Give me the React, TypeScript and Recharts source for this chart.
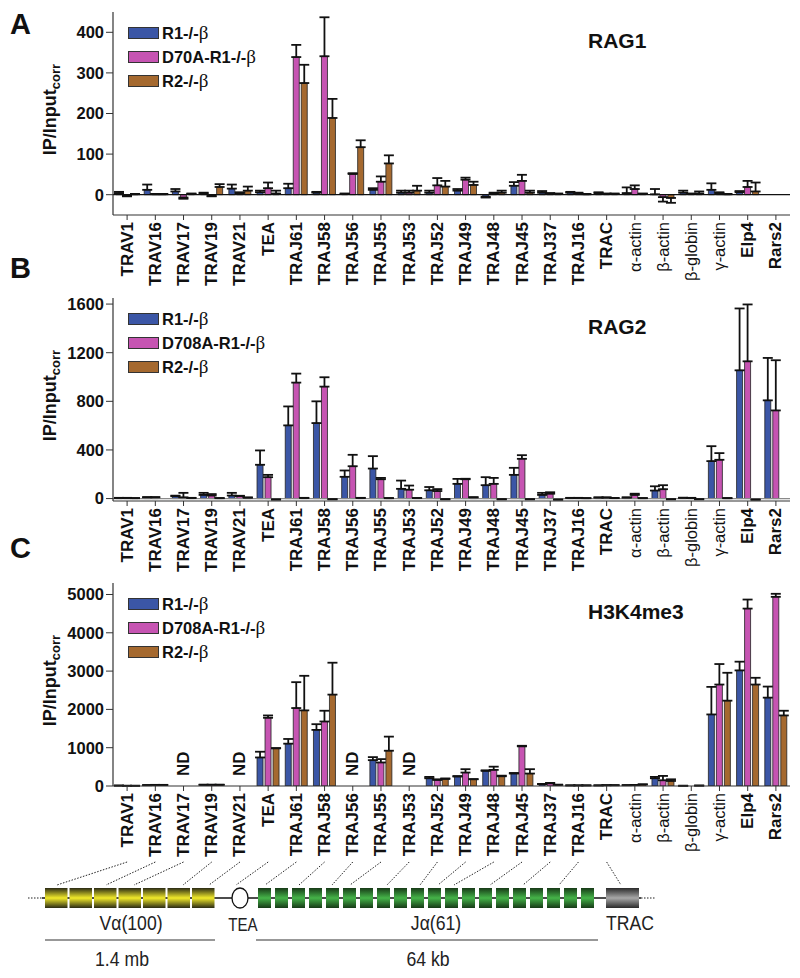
import React from 'react';
import { BarChart, Bar, XAxis, YAxis, ErrorBar, ReferenceLine, ReferenceDot, Legend } from 'recharts';

const categories = ['TRAV1', 'TRAV16', 'TRAV17', 'TRAV19', 'TRAV21', 'TEA', 'TRAJ61', 'TRAJ58', 'TRAJ56', 'TRAJ55', 'TRAJ53', 'TRAJ52', 'TRAJ49', 'TRAJ48', 'TRAJ45', 'TRAJ37', 'TRAJ16', 'TRAC', 'α-actin', 'β-actin', 'β-globin', 'γ-actin', 'Elp4', 'Rars2'];

// Panel A — RAG1
const rag1Names = ['R1-/-β', 'D70A-R1-/-β', 'R2-/-β'];
const rag1R1 = [4, 12, 8, 3, 15, 6, 16, 5, 2, 12, 5, 5, 10, -5, 22, 5, 5, 4, 4, 1, 5, 12, 6, null];
const rag1R1Err = [3, 13, 6, 2, 10, 4, 11, 2, 1, 4, 5, 5, 4, 2, 9, 4, 2, 2, 14, 13, 5, 16, 3, null];
const rag1Mut = [-3, 1, -7, -3, 4, 16, 339, 341, 51, 32, 5, 23, 37, 3, 34, 3, 4, 2, 14, -6, 2, 4, 19, null];
const rag1MutErr = [1, 1, 3, 1, 2, 14, 30, 96, 2, 13, 5, 18, 5, 2, 15, 1, 1, 1, 9, 11, 1, 2, 15, null];
const rag1R2 = [1, 1, 2, 19, 10, 3, 275, 189, 117, 77, 10, 20, 24, 5, 5, 2, 1, 2, 2, -8, 3, 1, 8, null];
const rag1R2Err = [1, 1, 1, 7, 10, 7, 45, 47, 17, 20, 12, 14, 8, 5, 5, 1, 1, 1, 1, 12, 5, 1, 22, null];
const rag1Ticks = [0, 100, 200, 300, 400];

// Panel B — RAG2
const rag2Names = ['R1-/-β', 'D708A-R1-/-β', 'R2-/-β'];
const rag2R1 = [5, 10, 19, 30, 25, 278, 602, 621, 179, 247, 80, 68, 121, 110, 195, 30, 5, 8, 8, 66, 6, 308, 1055, 808];
const rag2R1Err = [1, 2, 5, 17, 22, 118, 156, 179, 52, 102, 68, 27, 41, 66, 58, 17, 1, 2, 2, 35, 1, 123, 509, 349];
const rag2Mut = [5, 10, 10, 25, 20, 176, 954, 921, 266, 159, 73, 62, 159, 121, 327, 40, 5, 8, 30, 77, 5, 319, 1129, 725];
const rag2MutErr = [1, 2, 37, 12, 3, 19, 74, 77, 94, 11, 34, 16, 4, 49, 30, 12, 1, 2, 10, 33, 1, 55, 468, 413];
const rag2R2 = [3, 0, 5, 3, 8, -7, 5, -5, 5, 3, 4, -5, 10, -5, -5, -8, 3, 4, 3, -5, -5, 3, -8, null];
const rag2R2Err = [1, 0, 1, 1, 1, 1, 1, 1, 1, 1, 1, 1, 1, 1, 1, 1, 1, 1, 1, 1, 1, 1, 1, null];
const rag2Ticks = [0, 400, 800, 1200, 1600];

// Panel C — H3K4me3
const h3Names = ['R1-/-β', 'D708A-R1-/-β', 'R2-/-β'];
const h3R1 = [10, 20, null, 30, null, 745, 1105, 1465, null, 675, null, 202, 246, 395, 325, 50, 15, 15, 20, 202, 5, 1868, 3018, 2307];
const h3R1Err = [2, 5, null, 5, null, 150, 123, 149, null, 79, null, 35, 14, 15, 15, 5, 2, 2, 3, 35, 2, 720, 228, 289];
const h3Mut = [5, 25, null, 30, null, 1781, 2035, 1684, null, 614, null, 158, 351, 421, 1035, 70, 15, 20, 25, 149, 0, 2649, 4632, 4939];
const h3MutErr = [2, 5, null, 5, null, 61, 676, 281, null, 88, null, 17, 88, 84, 15, 10, 2, 2, 3, 114, 0, 535, 236, 79];
const h3R2 = [5, 25, null, 30, null, 982, 1974, 2386, null, 921, null, 184, 175, 254, 325, 30, 15, 20, 40, 132, 10, 2228, 2649, 1842];
const h3R2Err = [2, 5, null, 5, null, 8, 903, 833, null, 368, null, 14, 5, 16, 114, 5, 2, 2, 3, 43, 2, 728, 176, 123];
const h3Ticks = [0, 1000, 2000, 3000, 4000, 5000];
const h3NotDetermined = ['TRAV17', 'TRAV21', 'TRAJ56', 'TRAJ53'];

const COLORS = ['#3b56a6', '#c654b2', '#a5692f'];
const FONT = '"Liberation Sans", Arial, Helvetica, sans-serif';

const PLOT_LEFT = 113;
const PLOT_RIGHT = 790;
const PLOT_H = 203;
const M_TOP = 5;
const X_AX_H = 80;

const errPair = (v: number | null, e: number | null) =>
  v == null || e == null ? null : v < 0 ? [e, 0] : [0, e];

function buildRows(a: any[], ae: any[], b: any[], be: any[], c: any[], ce: any[]) {
  return categories.map((cat, i) => ({
    cat,
    s0: a[i], s0e: errPair(a[i], ae[i]),
    s1: b[i], s1e: errPair(b[i], be[i]),
    s2: c[i], s2e: errPair(c[i], ce[i]),
  }));
}

const XTick = (props: any) => {
  const { x, y, payload } = props;
  const label: string = payload.value;
  const greek = /^[αβγ]/.test(label);
  return (
    <text
      x={x}
      y={y}
      transform={`rotate(-90 ${x} ${y})`}
      textAnchor="end"
      dominantBaseline="central"
      fontFamily={FONT}
      fontSize={greek ? 16.5 : 17}
      fontWeight={greek ? 'normal' : 'bold'}
      fill="#111"
    >
      {label}
    </text>
  );
};

const makeLegend = (names: string[]) => (props: any) => {
  const payload = [...(props.payload || [])].sort(
    (a: any, b: any) => names.indexOf(String(a.value)) - names.indexOf(String(b.value))
  );
  return (
    <div style={{ display: 'flex', flexDirection: 'column' }}>
      {payload.map((p: any, i: number) => {
        const name: string = String(p.value);
        const parts = name.split('β');
        return (
          <div key={i} style={{ display: 'flex', alignItems: 'center', height: 24, whiteSpace: 'nowrap' }}>
            <span style={{ display: 'inline-block', width: 31, height: 12, background: p.color, border: '1px solid #333', boxSizing: 'border-box', marginRight: 3 }} />
            <span style={{ fontFamily: FONT, fontWeight: 'bold', fontSize: 16.5, color: '#111' }}>
              {parts[0]}
              {parts.length > 1 && (
                <span style={{ fontFamily: '"Liberation Serif", "Times New Roman", serif', fontWeight: 'normal', fontSize: 19 }}>β</span>
              )}
            </span>
          </div>
        );
      })}
    </div>
  );
};

const NDLabel = (props: any) => {
  const vb = props.viewBox || {};
  const x = vb.x + (vb.width || 0) / 2;
  const y = vb.y + (vb.height || 0) / 2;
  return (
    <text x={x} y={y} transform={`rotate(-90 ${x} ${y})`} textAnchor="middle" dominantBaseline="central" fontFamily={FONT} fontWeight="bold" fontSize={17} fill="#111">
      ND
    </text>
  );
};

type PanelProps = {
  plotTop: number;
  rows: any[];
  names: string[];
  domain: [number, number];
  ticks: number[];
  zeroColor?: string;
  nd?: string[];
  ndY?: number;
};

function Panel({ plotTop, rows, names, domain, ticks, zeroColor, nd, ndY }: PanelProps) {
  const h = M_TOP + PLOT_H + X_AX_H;
  return (
    <div style={{ position: 'absolute', left: 0, top: plotTop - M_TOP, width: 800, height: h }}>
      <BarChart width={800} height={h} data={rows} margin={{ top: M_TOP, right: 800 - PLOT_RIGHT, left: 0, bottom: 0 }} barSize={6} barGap={2}>
        <XAxis dataKey="cat" interval={0} height={X_AX_H} tick={<XTick />} tickSize={5} tickMargin={2} tickLine={{ stroke: '#333' }} axisLine={{ stroke: '#333', strokeWidth: 1.2 }} />
        <XAxis xAxisId="top" dataKey="cat" orientation="top" height={0} tick={false} tickLine={false} axisLine={{ stroke: '#333', strokeWidth: 1.2 }} />
        <YAxis
          type="number"
          domain={domain}
          ticks={ticks}
          allowDataOverflow
          interval={0}
          width={PLOT_LEFT}
          tickSize={7}
          tickMargin={2}
          tickLine={{ stroke: '#333' }}
          axisLine={{ stroke: '#333', strokeWidth: 1.2 }}
          tick={{ fontFamily: FONT, fontWeight: 'bold', fontSize: 16.5, fill: '#111' }}
        />
        <YAxis yAxisId="right" orientation="right" type="number" domain={domain} allowDataOverflow width={0} tick={false} tickLine={false} axisLine={{ stroke: '#333', strokeWidth: 1.2 }} />
        {zeroColor && <ReferenceLine y={0} stroke={zeroColor} strokeWidth={1.3} />}
        <Legend
          layout="vertical"
          align="center"
          verticalAlign="middle"
          content={makeLegend(names)}
          wrapperStyle={{ left: 128, top: M_TOP + 9, width: 'auto', height: 'auto' }}
        />
        {['s0', 's1', 's2'].map((k, i) => (
          <Bar key={k} dataKey={k} name={names[i]} fill={COLORS[i]} stroke="#222" strokeWidth={0.8} isAnimationActive={false}>
            <ErrorBar dataKey={`${k}e`} width={5} strokeWidth={1.8} stroke="#111" direction="y" isAnimationActive={false} />
          </Bar>
        ))}
        {(nd || []).map((c) => (
          <ReferenceDot key={c} x={c} y={ndY} r={0} fill="none" stroke="none" label={(p: any) => <NDLabel {...p} />} />
        ))}
      </BarChart>
    </div>
  );
}

const tickX = (i: number) => PLOT_LEFT + ((i + 0.5) * (PLOT_RIGHT - PLOT_LEFT)) / categories.length;

// schematic of the TCRα locus
const locusLinked = ['TRAV1', 'TRAV16', 'TRAV17', 'TRAV19', 'TRAV21', 'TEA', 'TRAJ61', 'TRAJ58', 'TRAJ56', 'TRAJ55', 'TRAJ53', 'TRAJ52', 'TRAJ49', 'TRAJ48', 'TRAJ45', 'TRAJ37', 'TRAJ16', 'TRAC'];
const locusTargets = [57, 106, 134, 183, 209, 236, 265, 299, 332, 350, 387, 420, 438, 454, 490, 523, 559, 621];
const vCount = 7;
const jCount = 20;

const NarrowText = ({ x, y, size, children }: any) => (
  <text
    transform={`translate(${x} ${y}) scale(0.84 1)`}
    textAnchor="middle"
    dominantBaseline="central"
    fontFamily={FONT}
    fontSize={size}
    fill="#222"
  >
    {children}
  </text>
);

function Overlay() {
  const boxTop = 888;
  const boxH = 20;
  const mid = boxTop + boxH / 2;
  const vStart = 45, vPitch = 24.5, vW = 22.5;
  const jStart = 258, jPitch = 17, jW = 13;
  const titles = [
    { t: 'RAG1', y: 48 },
    { t: 'RAG2', y: 334 },
    { t: 'H3K4me3', y: 619 },
  ];
  const plotTops = [12, 298, 583];
  return (
    <svg width={800} height={978} style={{ position: 'absolute', left: 0, top: 0, pointerEvents: 'none' }}>
      <defs>
        <linearGradient id="gy" x1="0" y1="0" x2="0" y2="1">
          <stop offset="0" stopColor="#2a2a14" />
          <stop offset="0.5" stopColor="#f2ea2a" />
          <stop offset="1" stopColor="#2a2a14" />
        </linearGradient>
        <linearGradient id="gg" x1="0" y1="0" x2="0" y2="1">
          <stop offset="0" stopColor="#173a17" />
          <stop offset="0.5" stopColor="#45b449" />
          <stop offset="1" stopColor="#173a17" />
        </linearGradient>
        <linearGradient id="gc" x1="0" y1="0" x2="0" y2="1">
          <stop offset="0" stopColor="#2a2a2a" />
          <stop offset="0.5" stopColor="#a8a8a8" />
          <stop offset="1" stopColor="#2a2a2a" />
        </linearGradient>
      </defs>
      {['A', 'B', 'C'].map((l, i) => (
        <text key={l} x={10} y={[34, 278, 558][i]} fontFamily={FONT} fontWeight="bold" fontSize={29} fill="#111">{l}</text>
      ))}
      {plotTops.map((pt, i) => {
        const cy = pt + PLOT_H / 2 - 4;
        return (
          <text key={i} x={50} y={cy} transform={`rotate(-90 50 ${cy})`} textAnchor="middle" dominantBaseline="central" fontFamily={FONT} fontWeight="bold" fontSize={18} fill="#111">
            IP/Input<tspan fontSize={13} dy={5}>corr</tspan>
          </text>
        );
      })}
      {titles.map((t) => (
        <text key={t.t} x={588} y={t.y} fontFamily={FONT} fontWeight="bold" fontSize={21} fill="#111">{t.t}</text>
      ))}
      {/* dotted connectors */}
      {locusLinked.map((c, i) => (
        <line key={c} x1={tickX(categories.indexOf(c))} y1={862} x2={locusTargets[i]} y2={boxTop - 3} stroke="#222" strokeWidth={1} strokeDasharray="1.5 1.5" />
      ))}
      {/* backbone */}
      <line x1={28} y1={mid} x2={42} y2={mid} stroke="#222" strokeWidth={1.2} strokeDasharray="1.5 1.5" />
      <line x1={42} y1={mid} x2={641} y2={mid} stroke="#111" strokeWidth={1.3} />
      <line x1={641} y1={mid} x2={655} y2={mid} stroke="#222" strokeWidth={1.2} strokeDasharray="1.5 1.5" />
      {Array.from({ length: vCount }).map((_, i) => (
        <rect key={'v' + i} x={vStart + i * vPitch} y={boxTop} width={vW} height={boxH} fill="url(#gy)" />
      ))}
      <ellipse cx={240} cy={mid} rx={8} ry={10} fill="#fff" stroke="#111" strokeWidth={1.3} />
      {Array.from({ length: jCount }).map((_, i) => (
        <rect key={'j' + i} x={jStart + i * jPitch} y={boxTop} width={jW} height={boxH} fill="url(#gg)" />
      ))}
      <rect x={606} y={boxTop} width={33} height={boxH} fill="url(#gc)" />
      <NarrowText x={131} y={922} size={21}>Vα(100)</NarrowText>
      <NarrowText x={243} y={925} size={18}>TEA</NarrowText>
      <NarrowText x={436} y={922} size={21}>Jα(61)</NarrowText>
      <NarrowText x={630} y={922} size={21}>TRAC</NarrowText>
      <line x1={45} y1={940} x2={215} y2={940} stroke="#333" strokeWidth={1.2} />
      <line x1={256} y1={940} x2={598} y2={940} stroke="#333" strokeWidth={1.2} />
      <NarrowText x={122} y={958} size={21}>1.4 mb</NarrowText>
      <NarrowText x={428} y={958} size={21}>64 kb</NarrowText>
    </svg>
  );
}

export default function App() {
  const rowsA = buildRows(rag1R1, rag1R1Err, rag1Mut, rag1MutErr, rag1R2, rag1R2Err);
  const rowsB = buildRows(rag2R1, rag2R1Err, rag2Mut, rag2MutErr, rag2R2, rag2R2Err);
  const rowsC = buildRows(h3R1, h3R1Err, h3Mut, h3MutErr, h3R2, h3R2Err);
  return (
    <div style={{ position: 'absolute', left: 0, top: 0, width: 800, height: 978, background: '#fff', overflow: 'hidden' }}>
      <Panel plotTop={12} rows={rowsA} names={rag1Names} domain={[-50, 450]} ticks={rag1Ticks} zeroColor="#111" />
      <Panel plotTop={298} rows={rowsB} names={rag2Names} domain={[-20, 1650]} ticks={rag2Ticks} zeroColor="#8a8a8a" />
      <Panel plotTop={583} rows={rowsC} names={h3Names} domain={[0, 5300]} ticks={h3Ticks} nd={h3NotDetermined} ndY={580} />
      <Overlay />
    </div>
  );
}
